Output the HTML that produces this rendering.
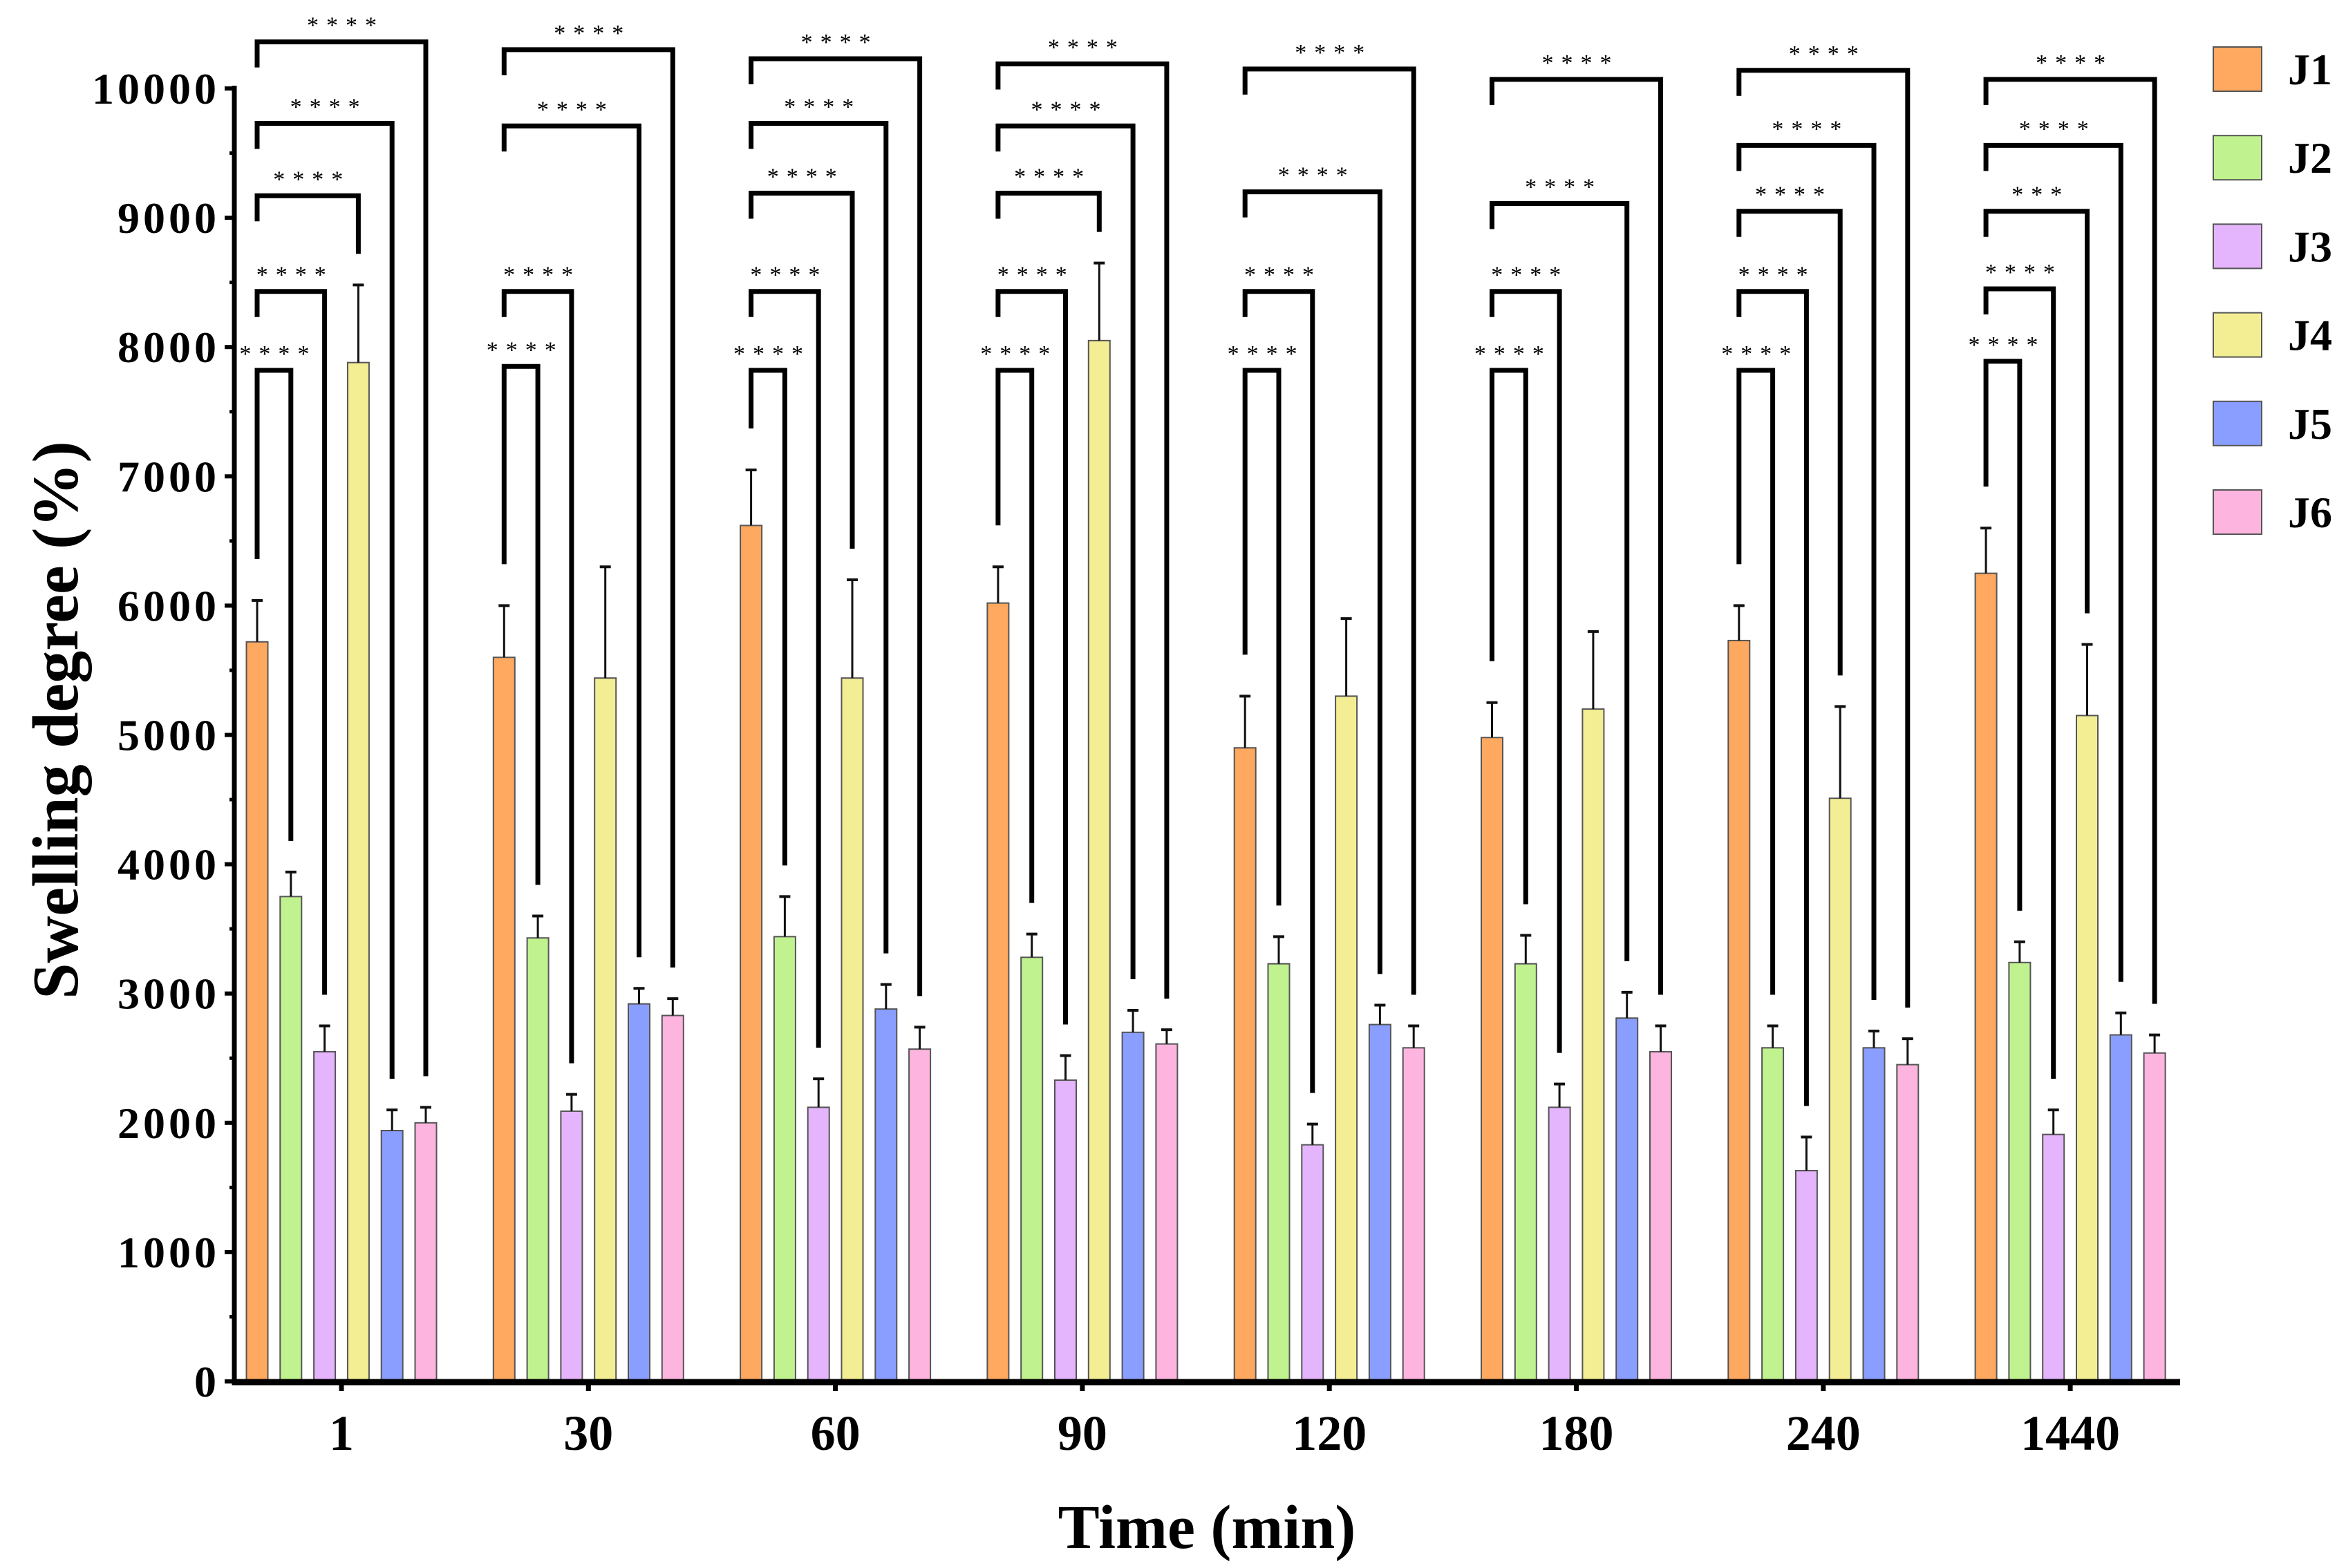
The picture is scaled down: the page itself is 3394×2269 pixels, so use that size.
<!DOCTYPE html>
<html><head><meta charset="utf-8"><style>
html,body{margin:0;padding:0;background:#fff}
svg{display:block}
text{font-family:"Liberation Serif",serif;font-weight:bold;fill:#000}
</style></head><body>
<svg id="chart" width="3394" height="2269" viewBox="0 0 3394 2269" xmlns="http://www.w3.org/2000/svg">
<g id="grid"></g>
</svg>
<script>
const categories = ["1","30","60","90","120","180","240","1440"];
const seriesNames = ["J1","J2","J3","J4","J5","J6"];
const seriesColors = ["#FFA860","#C0F290","#E4B4FC","#F3EE94","#8A9EFF","#FDB4DE"];
const j1 = [5720,5600,6620,6020,4900,4980,5730,6250];
const j2 = [3750,3430,3440,3280,3230,3230,2580,3240];
const j3 = [2550,2090,2120,2330,1830,2120,1630,1910];
const j4 = [7880,5440,5440,8050,5300,5200,4510,5150];
const j5 = [1940,2920,2880,2700,2760,2810,2580,2680];
const j6 = [2000,2830,2570,2610,2580,2550,2450,2540];
const j1Err = [6040,6000,7050,6300,5300,5250,6000,6600];
const j2Err = [3940,3600,3750,3460,3440,3450,2750,3400];
const j3Err = [2750,2220,2340,2520,1990,2300,1890,2100];
const j4Err = [8480,6300,6200,8650,5900,5800,5220,5700];
const j5Err = [2100,3040,3070,2870,2910,3010,2710,2850];
const j6Err = [2120,2960,2740,2720,2750,2750,2650,2680];
const yTicks = [0,1000,2000,3000,4000,5000,6000,7000,8000,9000,10000];
// significance brackets per group: [target series index, level value, label]
const sigBrackets = [
 [[1,7820,"****"],[2,8430,"****"],[3,9170,"****"],[4,9730,"****"],[5,10360,"****"]],
 [[1,7850,"****"],[2,8430,"****"],[4,9710,"****"],[5,10300,"****"]],
 [[1,7820,"****"],[2,8430,"****"],[3,9190,"****"],[4,9730,"****"],[5,10230,"****"]],
 [[1,7820,"****"],[2,8430,"****"],[3,9190,"****"],[4,9710,"****"],[5,10190,"****"]],
 [[1,7820,"****"],[2,8430,"****"],[4,9200,"****"],[5,10150,"****"]],
 [[1,7820,"****"],[2,8430,"****"],[4,9110,"****"],[5,10070,"****"]],
 [[1,7820,"****"],[2,8430,"****"],[3,9050,"****"],[4,9560,"****"],[5,10140,"****"]],
 [[1,7890,"****"],[2,8450,"****"],[3,9050,"***"],[4,9560,"****"],[5,10070,"****"]]
];
const values = [j1,j2,j3,j4,j5,j6];
const errs = [j1Err,j2Err,j3Err,j4Err,j5Err,j6Err];

const NS="http://www.w3.org/2000/svg";
const svg=document.getElementById('chart');
const y0=1999, yTop=128, vMax=10000;
function yScale(v){return y0-(v/vMax)*(y0-yTop);}
const gx0=494, gStep=357.3, bStep=48.8, bW=31;
function xGroup(i){return gx0+i*gStep;}
function xBar(i,j){return xGroup(i)+(j-2.5)*bStep;}
function mk(tag,attrs,parent){const e=document.createElementNS(NS,tag);for(const k in attrs)e.setAttribute(k,attrs[k]);(parent||svg).appendChild(e);return e;}

// bars
const barsG=mk('g',{});


for(let j=0;j<6;j++){for(let i=0;i<categories.length;i++){
  const cx=xBar(i,j), top=yScale(values[j][i]);
  const r=mk('rect',{x:cx-bW/2,y:top,width:bW,height:y0-top,fill:seriesColors[j],stroke:'#555','stroke-width':2},barsG);
  
  
  const et=yScale(errs[j][i]);
  const l=mk('line',{x1:cx,x2:cx,y1:top,y2:et,stroke:'#111','stroke-width':3},barsG);
  
  
  const c=mk('line',{x1:cx-8,x2:cx+8,y1:et,y2:et,stroke:'#111','stroke-width':4},barsG);
  
  
}}

// brackets
const brG=mk('g',{fill:'none'});


for(let i=0;i<sigBrackets.length;i++){
  sigBrackets[i].forEach((b,k)=>{
    const [t,lv,lab]=b;
    const ly=yScale(lv), xl=xBar(i,0), xr=xBar(i,t);
    const leftEnd = k===0 ? yScale(j1Err[i])-60 : ly+37;
    const rightEnd = Math.max(ly+40, yScale(errs[t][i])-45);
    const p=mk('path',{d:`M${xl},${leftEnd} L${xl},${ly} L${xr},${ly} L${xr},${rightEnd}`,stroke:'#000','stroke-width':7,fill:'none'},brG);
    
    
    const tx=mk('text',{x:(xl+xr)/2+6,y:ly-13,'text-anchor':'middle','font-size':34,'letter-spacing':11,style:'font-weight:normal'},brG);
    tx.textContent=lab;
    
    
  });
}

// axes
const ax=mk('g',{});


const ya=mk('line',{x1:339,x2:339,y1:124,y2:2004,stroke:'#000','stroke-width':7},ax);


const xa=mk('line',{x1:336,x2:3154,y1:2000,y2:2000,stroke:'#000','stroke-width':9},ax);


yTicks.forEach(v=>{
  const y=yScale(v);
  const t=mk('line',{x1:325,x2:339,y1:y,y2:y,stroke:'#000','stroke-width':6},ax);
  
  
  if(v<vMax){const ym=yScale(v+500);
    const m=mk('line',{x1:332,x2:339,y1:ym,y2:ym,stroke:'#000','stroke-width':5},ax);
    
    }
  const tl=mk('text',{x:318,y:y+22,'text-anchor':'end','font-size':64,'letter-spacing':5},ax);
  tl.textContent=v;
  
  
});
categories.forEach((c,i)=>{
  const x=xGroup(i);
  const t=mk('line',{x1:x,x2:x,y1:2000,y2:2013,stroke:'#000','stroke-width':7},ax);
  
  
  const tl=mk('text',{x:x,y:2098,'text-anchor':'middle','font-size':72},ax);
  tl.textContent=c;
  
  
});
const xt=mk('text',{x:1746,y:2240,'text-anchor':'middle','font-size':90});
xt.textContent='Time (min)';


const yt=mk('text',{x:0,y:0,'text-anchor':'middle','font-size':94,transform:'translate(112,1042) rotate(-90)'});
yt.textContent='Swelling degree (%)';



// legend
const lg=mk('g',{});


seriesNames.forEach((n,j)=>{
  const cy=100+j*128.2;
  const r=mk('rect',{x:3202,y:cy-32,width:70,height:64,fill:seriesColors[j],stroke:'#555','stroke-width':2},lg);
  
  
  const t=mk('text',{x:3310,y:cy+22,'font-size':64},lg);
  t.textContent=n;
  
  
});
</script>
</body></html>
